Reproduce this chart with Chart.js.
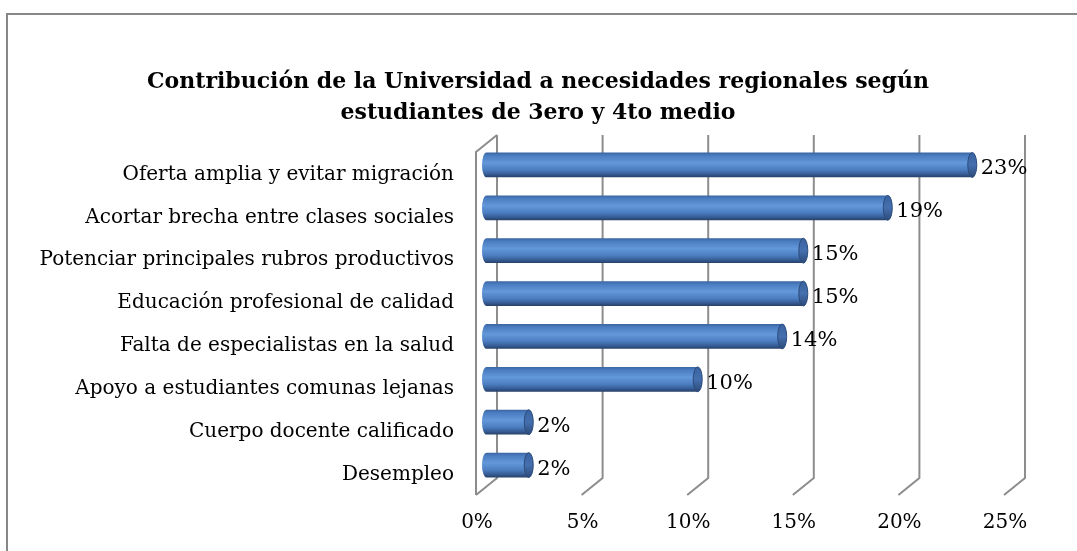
<!DOCTYPE html>
<html>
<head>
<meta charset="utf-8">
<script src="https://cdn.jsdelivr.net/npm/chart.js@4.4.0/dist/chart.umd.min.js"></script>
<style>
  html, body { margin: 0; padding: 0; background: #ffffff; }
  #wrap { position: relative; width: 1077px; height: 551px; }
</style>
</head>
<body>
<div id="wrap"><canvas id="chart"></canvas></div>
<script>
// Chart content
const titleLines = [
  'Contribución de la Universidad a necesidades regionales según',
  'estudiantes de 3ero y 4to medio'
];
const categories = [
  'Oferta amplia y evitar migración',
  'Acortar brecha entre clases sociales',
  'Potenciar principales rubros productivos',
  'Educación profesional de calidad',
  'Falta de especialistas en la salud',
  'Apoyo a estudiantes comunas lejanas',
  'Cuerpo docente calificado',
  'Desempleo'
];
const values = [23, 19, 15, 15, 14, 10, 2, 2];
const tickValues = [0, 5, 10, 15, 20, 25];
const tickLabels = ['0%', '5%', '10%', '15%', '20%', '25%'];

// Perspective offset between the bar plane and the front/back walls
const DEPTH_X = 10.5;
const DEPTH_Y = 8.5;
const LABEL_FONT = '20px "DejaVu Serif"';
const VALUE_FONT = '21px "DejaVu Serif"';
const TITLE_FONT = 'bold 22px "DejaVu Serif"';
const GRID_COLOR = '#8d8d8d';

const pseudo3d = {
  id: 'pseudo3d',
  beforeDraw(chart) {
    const ctx = chart.ctx;
    ctx.save();
    // outer frame
    ctx.strokeStyle = '#878787';
    ctx.lineWidth = 2;
    ctx.strokeRect(7, 14, 1200, 800);
    // title
    ctx.fillStyle = '#000';
    ctx.font = TITLE_FONT;
    ctx.textAlign = 'center';
    ctx.textBaseline = 'middle';
    ctx.fillText(titleLines[0], 538, 82);
    ctx.fillText(titleLines[1], 538, 113);
    ctx.restore();
  },
  beforeDatasetsDraw(chart) {
    const ctx = chart.ctx;
    const xs = chart.scales.x;
    const ys = chart.scales.y;
    const area = chart.chartArea;
    const backTop = area.top - DEPTH_Y;
    const backBottom = area.bottom - DEPTH_Y;
    const frontTop = area.top + DEPTH_Y;
    const frontBottom = area.bottom + DEPTH_Y;
    ctx.save();
    ctx.strokeStyle = GRID_COLOR;
    ctx.lineWidth = 2;
    ctx.lineJoin = 'miter';
    tickValues.forEach((v, i) => {
      const xm = xs.getPixelForValue(v);
      const xb = xm + DEPTH_X;
      const xf = xm - DEPTH_X;
      ctx.beginPath();
      ctx.moveTo(xb, backTop);
      ctx.lineTo(xb, backBottom);
      ctx.lineTo(xf, frontBottom);
      ctx.stroke();
      if (i === 0) {
        // side wall edge
        ctx.beginPath();
        ctx.moveTo(xb, backTop);
        ctx.lineTo(xf, frontTop);
        ctx.lineTo(xf, frontBottom);
        ctx.stroke();
      }
      ctx.fillStyle = '#000';
      ctx.font = LABEL_FONT;
      ctx.textAlign = 'center';
      ctx.textBaseline = 'middle';
      ctx.fillText(tickLabels[i], xf + 1, 523);
    });
    // category labels
    ctx.fillStyle = '#000';
    ctx.font = LABEL_FONT;
    ctx.textAlign = 'right';
    ctx.textBaseline = 'middle';
    categories.forEach((c, i) => {
      ctx.fillText(c, 454, ys.getPixelForValue(i) + DEPTH_Y + 1);
    });
    ctx.restore();
  },
  afterDatasetsDraw(chart) {
    const ctx = chart.ctx;
    const meta = chart.getDatasetMeta(0);
    ctx.save();
    meta.data.forEach((bar, i) => {
      const p = bar.getProps(['x', 'y', 'base', 'height'], true);
      const h = p.height;
      const top = p.y - h / 2;
      const bottom = p.y + h / 2;
      const rx = 4.5;
      const ry = h / 2;
      const g = ctx.createLinearGradient(0, top, 0, bottom);
      g.addColorStop(0.0, '#3a64a0');
      g.addColorStop(0.12, '#4a7cc0');
      g.addColorStop(0.42, '#6398da');
      g.addColorStop(0.7, '#4b7dc0');
      g.addColorStop(0.88, '#355b93');
      g.addColorStop(1.0, '#263f66');
      ctx.beginPath();
      ctx.moveTo(p.base, bottom);
      ctx.ellipse(p.base, p.y, rx, ry, 0, Math.PI / 2, Math.PI * 1.5);
      ctx.lineTo(p.x, top);
      ctx.lineTo(p.x, bottom);
      ctx.closePath();
      ctx.fillStyle = g;
      ctx.fill();
      // end cap
      const gc = ctx.createLinearGradient(0, top, 0, bottom);
      gc.addColorStop(0.0, '#3a62a0');
      gc.addColorStop(0.5, '#456fae');
      gc.addColorStop(1.0, '#2c4a78');
      ctx.beginPath();
      ctx.ellipse(p.x, p.y, rx, ry, 0, 0, Math.PI * 2);
      ctx.fillStyle = gc;
      ctx.fill();
      ctx.lineWidth = 1;
      ctx.strokeStyle = '#2b4b7c';
      ctx.stroke();
      // value label
      ctx.fillStyle = '#000';
      ctx.font = VALUE_FONT;
      ctx.textAlign = 'left';
      ctx.textBaseline = 'middle';
      ctx.fillText(values[i] + '%', p.x + rx + 4, p.y + 4);
    });
    ctx.restore();
  }
};

new Chart(document.getElementById('chart'), {
  type: 'bar',
  data: {
    labels: categories,
    datasets: [{
      data: values,
      backgroundColor: 'rgba(0,0,0,0)',
      borderWidth: 0,
      categoryPercentage: 1,
      barPercentage: 0.58
    }]
  },
  options: {
    indexAxis: 'y',
    responsive: true,
    maintainAspectRatio: false,
    devicePixelRatio: 1,
    animation: false,
    layout: { padding: { left: 486.5, right: 62.5, top: 143.5, bottom: 64.5 } },
    plugins: { legend: { display: false }, title: { display: false }, tooltip: { enabled: false } },
    scales: {
      x: { display: false, min: 0, max: 25 },
      y: { display: false }
    }
  },
  plugins: [pseudo3d]
});
</script>
</body>
</html>
